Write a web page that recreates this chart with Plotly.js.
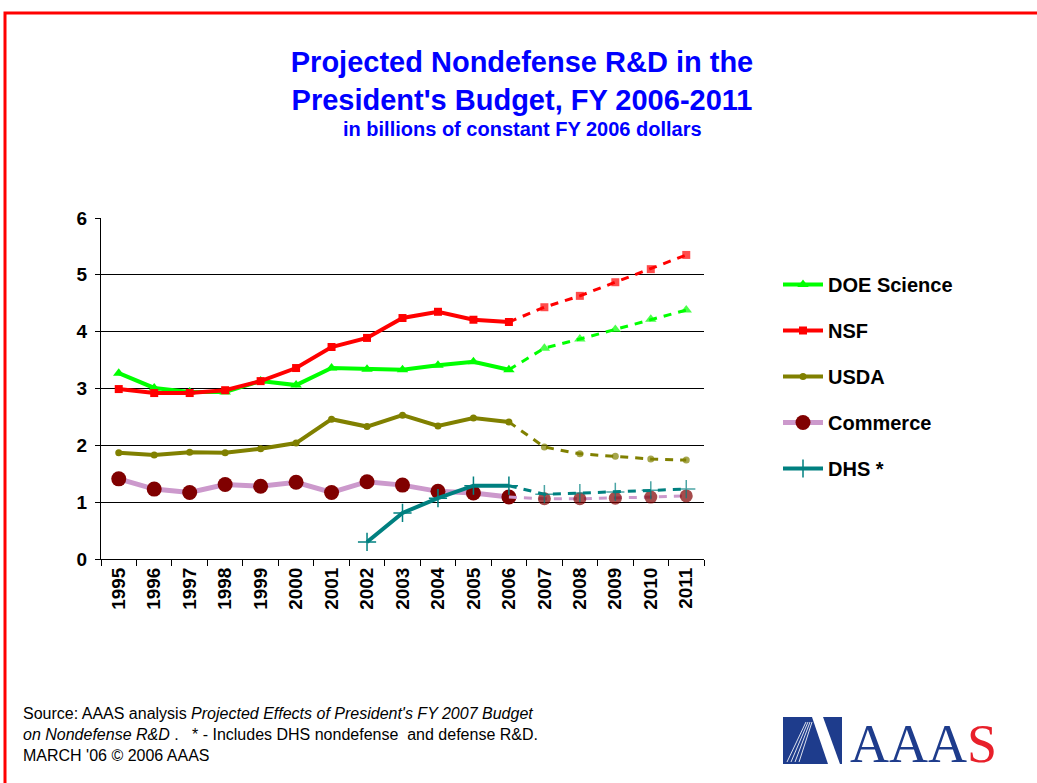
<!DOCTYPE html>
<html><head><meta charset="utf-8">
<script src="https://cdn.plot.ly/plotly-3.0.1.min.js"></script>
<style>html,body{margin:0;padding:0;background:#fff}#chart{width:1037px;height:783px}</style>
</head><body><div id="chart"></div>
<script>
// ---- data (billions of constant FY 2006 dollars) ----
const years = ['1995','1996','1997','1998','1999','2000','2001','2002','2003','2004','2005','2006','2007','2008','2009','2010','2011'];
const lastActualYear = '2006';
const seriesNames = ['DOE Science','NSF','USDA','Commerce','DHS *'];
const doeScience = [3.27,3.01,2.94,2.94,3.13,3.06,3.36,3.34,3.33,3.41,3.47,3.33,3.71,3.87,4.04,4.22,4.38];
const nsf        = [2.99,2.92,2.92,2.97,3.13,3.36,3.73,3.89,4.24,4.35,4.21,4.17,4.43,4.63,4.87,5.10,5.35];
const usda       = [1.87,1.83,1.88,1.87,1.94,2.04,2.46,2.33,2.53,2.34,2.48,2.41,1.97,1.85,1.81,1.76,1.74];
const commerce   = [1.41,1.23,1.17,1.31,1.28,1.35,1.17,1.36,1.30,1.19,1.16,1.09,1.06,1.06,1.07,1.09,1.11];
const dhs        = [null,null,null,null,null,null,null,0.30,0.81,1.07,1.29,1.29,1.14,1.16,1.18,1.21,1.23];
const yTicks = [0,1,2,3,4,5,6];

// ---- layout helpers (pixel -> paper) ----
const L=101, R=704, T=218, B=559;
const px = x => (x-L)/(R-L);
const py = y => (B-y)/(B-T);
const split = years.indexOf(lastActualYear);
const FONT = 'Liberation Sans, Arial, Helvetica, sans-serif';

const styles = [
  {line:'#00FF00', marker:'#00FF00', symbol:'triangle-up', size:10},
  {line:'#FF0000', marker:'#FF0000', symbol:'square', size:8},
  {line:'#808000', marker:'#808000', symbol:'circle', size:7},
  {line:'#CC99CC', marker:'#800000', symbol:'circle', size:15},
  {line:'#008080', marker:'#008080', symbol:'cross-thin', size:13}
];
const allSeries = [doeScience, nsf, usda, commerce, dhs];

const traces = [];
allSeries.forEach((vals, i) => {
  const s = styles[i];
  const mk = {color:s.marker, symbol:s.symbol, size:s.size, line:{color:s.marker, width: s.symbol==='cross-thin'?1.5:0}};
  traces.push({
    type:'scatter', mode:'lines+markers', name:seriesNames[i], legendgroup:'g'+i,
    x: years.slice(0, split+1), y: vals.slice(0, split+1),
    line:{color:s.line, width: i===3?5:4}, marker: mk, hoverinfo:'x+y+name'
  });
  const projSize = i===3 ? 13 : s.size;
  traces.push({
    type:'scatter', mode:'lines+markers', name:seriesNames[i], legendgroup:'g'+i, showlegend:false,
    x: years.slice(split), y: vals.slice(split),
    line:{color:s.line, width:3, dash:'8px,7px'},
    // first projected point (2006) is already marked by the solid trace
    marker: Object.assign({}, mk, {size: years.slice(split).map((y,j)=> j===0?0.1:projSize)}),
    hoverinfo:'x+y+name'
  });
});

const logoBlue = '#1E3C8C';
const shapes = [
  {type:'rect', xref:'paper', yref:'paper', x0:px(5), x1:px(1060), y0:py(13), y1:py(800), line:{color:'#FF0000', width:3}, fillcolor:'rgba(0,0,0,0)', layer:'below'},
  {type:'rect', xref:'paper', yref:'paper', x0:px(783), x1:px(842), y0:py(717), y1:py(764), line:{width:0}, fillcolor:logoBlue},
  {type:'path', xref:'paper', yref:'paper',
   path:`M${px(812)},${py(717)} L${px(823)},${py(717)} L${px(840)},${py(764)} L${px(828)},${py(764)} Z`,
   line:{width:0}, fillcolor:'#FFFFFF'}
];
[[806,722,787,762],[808,722,791,762],[810,722,795,762],[812,722,799,762]].forEach(l => {
  shapes.push({type:'line', xref:'paper', yref:'paper', x0:px(l[0]), y0:py(l[1]), x1:px(l[2]), y1:py(l[3]), line:{color:'rgba(255,255,255,0.85)', width:1}});
});

const layout = {
  width:1037, height:783,
  margin:{l:L, r:1037-R, t:T, b:783-B, pad:0},
  paper_bgcolor:'#FFFFFF', plot_bgcolor:'#FFFFFF',
  font:{family:FONT, color:'#000000', size:18, weight:'bold'},
  title:{
    text:"Projected Nondefense R&D in the<br>President's Budget, FY 2006-2011",
    font:{family:FONT, size:29, color:'#0000FF', weight:'bold'},
    xref:'container', yref:'container', x:522/1037, y:1-72/783, xanchor:'center', yanchor:'middle'
  },
  xaxis:{
    type:'category', categoryorder:'array', categoryarray:years,
    range:[-0.5, years.length-0.5], tickson:'boundaries', ticks:'outside', ticklen:6, tickcolor:'#000', tickwidth:1,
    showline:true, linecolor:'#000', linewidth:1, showgrid:false, zeroline:false,
    tickangle:-90, tickfont:{family:FONT, size:19, weight:'bold', color:'#000'}, fixedrange:true
  },
  yaxis:{
    range:[0,6], tickvals:yTicks, ticktext:yTicks.map(String), ticks:'outside', ticklen:5, tickcolor:'#000',
    showline:true, linecolor:'#000', linewidth:1, showgrid:true, gridcolor:'#000', gridwidth:1, zeroline:false,
    tickfont:{family:FONT, size:19, weight:'bold', color:'#000'}, ticklabelstandoff:4, fixedrange:true
  },
  legend:{
    x:px(778), y:py(265), xanchor:'left', yanchor:'top', bgcolor:'rgba(0,0,0,0)', borderwidth:0,
    font:{family:FONT, size:20, weight:'bold', color:'#000'}, traceorder:'grouped', tracegroupgap:17, itemwidth:40
  },
  showlegend:true,
  shapes: shapes,
  annotations:[
    {xref:'paper', yref:'paper', x:px(522), y:py(129), xanchor:'center', yanchor:'middle', showarrow:false,
     text:'in billions of constant FY 2006 dollars', font:{family:FONT, size:20, weight:'bold', color:'#0000FF'}},
    {xref:'paper', yref:'paper', x:px(21), y:py(734), xanchor:'left', yanchor:'middle', align:'left', showarrow:false,
     text:"Source: AAAS analysis <i>Projected Effects of President's FY 2007 Budget</i><br><i>on Nondefense R&D </i>.&nbsp;&nbsp; * - Includes DHS nondefense&nbsp; and defense R&D.<br>MARCH '06 © 2006 AAAS",
     font:{family:FONT, size:16, weight:'normal', color:'#000'}},
    {xref:'paper', yref:'paper', x:px(924), y:py(764), xanchor:'center', yanchor:'bottom', showarrow:false,
     text:'AAA<span style="color:#E8202A">S</span>', yshift:-12,
     font:{family:'Liberation Serif, Times New Roman, serif', size:54, weight:'normal', color:logoBlue}}
  ]
};

Plotly.newPlot('chart', traces, layout, {displayModeBar:false, staticPlot:true});
</script></body></html>
